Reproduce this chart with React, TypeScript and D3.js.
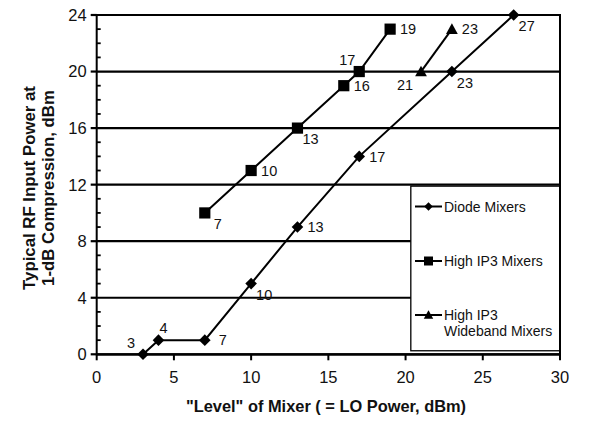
import React from "react";
import * as d3 from "d3";

const diodeX = [3, 4, 7, 10, 13, 17, 23, 27];
const diodeY = [0, 1, 1, 5, 9, 14, 20, 24];
const diodeLabelPos = ["AL", "AR", "R", "BR", "R", "R", "BR", "BR"];

const highX = [7, 10, 13, 16, 17, 19];
const highY = [10, 13, 16, 19, 20, 23];
const highLabelPos = ["BR", "R", "BR", "R", "AL", "R"];

const wideX = [21, 23];
const wideY = [20, 23];
const wideLabelPos = ["BL", "R"];

const xTicks = [0, 5, 10, 15, 20, 25, 30];
const yTicks = [0, 4, 8, 12, 16, 20, 24];
const yMinor = d3.range(0, 25, 1);

const seriesNames = ["Diode Mixers", "High IP3 Mixers", "High IP3\nWideband Mixers"];

const W = 600;
const H = 424;
const FONT = "'Liberation Sans', Arial, Helvetica, sans-serif";

const offsets: Record<string, [number, number]> = {
  R: [18, 0],
  BR: [13, 11],
  AL: [-12, -12],
  AR: [5, -12],
  BL: [-16, 13],
};

function markerPath(kind: string, s: number) {
  if (kind === "diamond") return `M0,${-s}L${s},0L0,${s}L${-s},0Z`;
  if (kind === "square") return `M${-s},${-s}H${s}V${s}H${-s}Z`;
  return `M0,${-s * 1.05}L${s * 1.05},${s * 0.85}L${-s * 1.05},${s * 0.85}Z`;
}

export default function App() {
  const x = d3.scaleLinear().domain([0, 30]).range([96.7, 560]);
  const y = d3.scaleLinear().domain([0, 24]).range([354.3, 15]);
  const line = d3.line<[number, number]>().x((d) => x(d[0])).y((d) => y(d[1]));

  const series = [
    { xs: diodeX, ys: diodeY, pos: diodeLabelPos, kind: "diamond", size: 5.8 },
    { xs: highX, ys: highY, pos: highLabelPos, kind: "square", size: 5.6 },
    { xs: wideX, ys: wideY, pos: wideLabelPos, kind: "triangle", size: 5.6 },
  ];

  const legX0 = x(20.34);
  const legX1 = x(30);
  const legY0 = y(12) + 1.5;
  const legY1 = y(0.25);
  const legRows = [206.5, 261, 315];

  return (
    <svg width={W} height={H} style={{ position: "absolute", left: 0, top: 0, background: "#fff" }} fontFamily={FONT}>
      <rect width={W} height={H} fill="#fff" />
      {/* gridlines */}
      {yTicks.map((t) => (
        <line key={"g" + t} x1={x(0)} x2={x(30)} y1={y(t)} y2={y(t)} stroke="#000" strokeWidth={2.2} />
      ))}
      {/* legend box */}
      <rect x={legX0} y={legY0} width={legX1 - legX0} height={legY1 - legY0} fill="#fff" stroke="#000" strokeWidth={1.3} />
      {/* right border */}
      <line x1={x(30)} x2={x(30)} y1={y(24) - 1} y2={y(0) + 1} stroke="#000" strokeWidth={2} />
      {/* y axis */}
      <line x1={x(0)} x2={x(0)} y1={y(24) - 1} y2={y(0) + 1} stroke="#000" strokeWidth={2} />
      {yMinor.filter((v) => v % 4 !== 0).map((v) => (
        <line key={"m" + v} x1={x(0)} x2={x(0) + 4} y1={y(v)} y2={y(v)} stroke="#000" strokeWidth={1.8} />
      ))}
      {yTicks.map((t) => (
        <g key={"yt" + t}>
          <line x1={x(0) - 6} x2={x(0)} y1={y(t)} y2={y(t)} stroke="#000" strokeWidth={2.2} />
          <text x={x(0) - 10} y={y(t)} dy="0.36em" textAnchor="end" fontSize={16.5} fill="#111">
            {t}
          </text>
        </g>
      ))}
      {/* x axis */}
      <line x1={x(0)} x2={x(30)} y1={y(0)} y2={y(0)} stroke="#000" strokeWidth={2.2} />
      {xTicks.map((t) => (
        <g key={"xt" + t}>
          <line x1={x(t)} x2={x(t)} y1={y(0)} y2={y(0) + 6} stroke="#000" strokeWidth={2} />
          <text x={x(t)} y={y(0) + 29} textAnchor="middle" fontSize={16.5} fill="#111">
            {t}
          </text>
        </g>
      ))}
      {/* series */}
      {series.map((s, si) => {
        const pts = s.xs.map((v, i) => [v, s.ys[i]] as [number, number]);
        return (
          <g key={"s" + si}>
            <path d={line(pts) || ""} fill="none" stroke="#000" strokeWidth={2} />
            {pts.map((p, i) => (
              <path key={i} d={markerPath(s.kind, s.size)} transform={`translate(${x(p[0])},${y(p[1])})`} fill="#000" />
            ))}
            {pts.map((p, i) => {
              const o = offsets[s.pos[i]];
              return (
                <text key={"l" + i} x={x(p[0]) + o[0]} y={y(p[1]) + o[1]} dy="0.36em" textAnchor="middle" fontSize={14.5} fill="#111">
                  {p[0]}
                </text>
              );
            })}
          </g>
        );
      })}
      {/* legend entries */}
      {seriesNames.map((name, i) => {
        const ly = legRows[i];
        const lines = name.split("\n");
        return (
          <g key={"lg" + i}>
            <line x1={415} x2={442} y1={ly} y2={ly} stroke="#000" strokeWidth={2} />
            <path d={markerPath(series[i].kind, i === 0 ? 4.3 : 4.5)} transform={`translate(428.5,${ly})`} fill="#000" />
            {lines.map((ln, j) => (
              <text key={j} x={444} y={ly + j * 16} dy="0.36em" fontSize={14} fill="#111">
                {ln}
              </text>
            ))}
          </g>
        );
      })}
      {/* axis titles */}
      <text x={326} y={406} dy="0.36em" textAnchor="middle" fontSize={16.4} fontWeight="bold" fill="#111">
        "Level" of Mixer ( = LO Power, dBm)
      </text>
      <g transform="translate(29,188) rotate(-90)">
        <text x={0} y={0} dy="0.36em" textAnchor="middle" fontSize={16.8} fontWeight="bold" fill="#111">
          Typical RF Input Power at
        </text>
        <text x={0} y={19} dy="0.36em" textAnchor="middle" fontSize={16.8} fontWeight="bold" fill="#111">
          1-dB Compression, dBm
        </text>
      </g>
    </svg>
  );
}
